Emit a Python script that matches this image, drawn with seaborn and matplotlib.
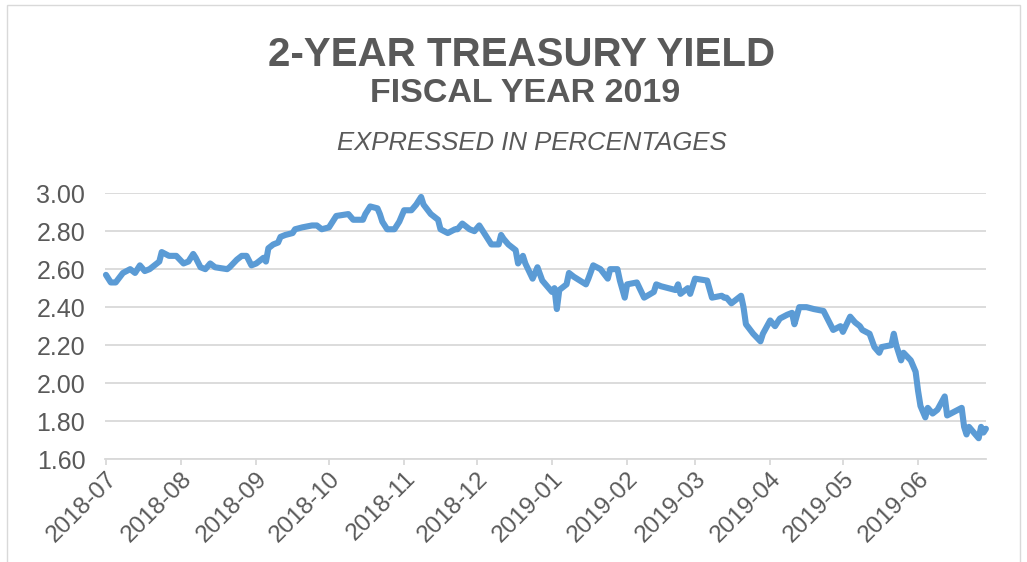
from __future__ import annotations

import matplotlib

matplotlib.use("Agg")
import matplotlib.dates as mdates
import matplotlib.pyplot as plt
import pandas as pd
import seaborn as sns
from matplotlib.patches import Rectangle

TITLE = "2-YEAR TREASURY YIELD"
SUBTITLE = "FISCAL YEAR 2019"
NOTE = "EXPRESSED IN PERCENTAGES"

DATES = [
    "2018-07-01", "2018-07-03", "2018-07-05", "2018-07-08", "2018-07-11", "2018-07-13",
    "2018-07-15", "2018-07-17", "2018-07-19", "2018-07-22", "2018-07-23", "2018-07-24",
    "2018-07-27", "2018-07-30", "2018-08-02", "2018-08-04", "2018-08-06", "2018-08-07",
    "2018-08-09", "2018-08-11", "2018-08-13", "2018-08-15", "2018-08-20", "2018-08-21",
    "2018-08-24", "2018-08-26", "2018-08-28", "2018-08-30", "2018-09-01", "2018-09-04",
    "2018-09-05", "2018-09-06", "2018-09-08", "2018-09-10", "2018-09-11", "2018-09-13",
    "2018-09-16", "2018-09-17", "2018-09-20", "2018-09-24", "2018-09-26", "2018-09-28",
    "2018-10-01", "2018-10-04", "2018-10-09", "2018-10-11", "2018-10-15", "2018-10-16",
    "2018-10-18", "2018-10-21", "2018-10-22", "2018-10-23", "2018-10-25", "2018-10-28",
    "2018-10-30", "2018-11-01", "2018-11-04", "2018-11-06", "2018-11-08", "2018-11-09",
    "2018-11-12", "2018-11-15", "2018-11-16", "2018-11-19", "2018-11-22", "2018-11-23",
    "2018-11-25", "2018-11-28", "2018-11-30", "2018-12-02", "2018-12-04", "2018-12-07",
    "2018-12-10", "2018-12-11", "2018-12-12", "2018-12-14", "2018-12-17", "2018-12-18",
    "2018-12-20", "2018-12-21", "2018-12-24", "2018-12-26", "2018-12-28", "2018-12-30",
    "2019-01-01", "2019-01-02", "2019-01-03", "2019-01-04", "2019-01-07", "2019-01-08",
    "2019-01-10", "2019-01-15", "2019-01-16", "2019-01-18", "2019-01-21", "2019-01-24",
    "2019-01-25", "2019-01-28", "2019-01-29", "2019-01-31", "2019-02-01", "2019-02-05",
    "2019-02-08", "2019-02-12", "2019-02-13", "2019-02-15", "2019-02-21", "2019-02-22",
    "2019-02-23", "2019-02-26", "2019-02-27", "2019-03-01", "2019-03-06", "2019-03-08",
    "2019-03-12", "2019-03-13", "2019-03-14", "2019-03-16", "2019-03-20", "2019-03-21",
    "2019-03-22", "2019-03-25", "2019-03-28", "2019-03-29", "2019-04-01", "2019-04-03",
    "2019-04-05", "2019-04-08", "2019-04-10", "2019-04-11", "2019-04-13", "2019-04-16",
    "2019-04-19", "2019-04-23", "2019-04-25", "2019-04-27", "2019-04-30", "2019-05-01",
    "2019-05-04", "2019-05-06", "2019-05-08", "2019-05-09", "2019-05-12", "2019-05-14",
    "2019-05-16", "2019-05-17", "2019-05-21", "2019-05-22", "2019-05-23", "2019-05-25",
    "2019-05-26", "2019-05-29", "2019-05-31", "2019-06-01", "2019-06-02", "2019-06-04",
    "2019-06-05", "2019-06-07", "2019-06-09", "2019-06-12", "2019-06-13", "2019-06-16",
    "2019-06-19", "2019-06-20", "2019-06-21", "2019-06-22", "2019-06-26", "2019-06-27",
    "2019-06-28", "2019-06-29",
]

YIELDS = [
    2.57, 2.53, 2.53, 2.58, 2.60, 2.58,
    2.62, 2.59, 2.60, 2.63, 2.64, 2.69,
    2.67, 2.67, 2.63, 2.64, 2.68, 2.66,
    2.61, 2.60, 2.63, 2.61, 2.60, 2.61,
    2.65, 2.67, 2.67, 2.62, 2.63, 2.66,
    2.64, 2.71, 2.73, 2.74, 2.77, 2.78,
    2.79, 2.81, 2.82, 2.83, 2.83, 2.81,
    2.82, 2.88, 2.89, 2.86, 2.86, 2.89,
    2.93, 2.92, 2.89, 2.85, 2.81, 2.81,
    2.85, 2.91, 2.91, 2.94, 2.98, 2.94,
    2.89, 2.86, 2.81, 2.79, 2.81, 2.81,
    2.84, 2.81, 2.80, 2.83, 2.79, 2.73,
    2.73, 2.78, 2.76, 2.73, 2.70, 2.63,
    2.67, 2.63, 2.55, 2.61, 2.54, 2.51,
    2.48, 2.50, 2.39, 2.49, 2.52, 2.58,
    2.56, 2.52, 2.55, 2.62, 2.60, 2.55,
    2.60, 2.60, 2.54, 2.45, 2.52, 2.53,
    2.45, 2.48, 2.52, 2.51, 2.49, 2.52,
    2.47, 2.50, 2.47, 2.55, 2.54, 2.45,
    2.46, 2.45, 2.45, 2.42, 2.46, 2.40,
    2.31, 2.26, 2.22, 2.26, 2.33, 2.30,
    2.34, 2.36, 2.37, 2.31, 2.40, 2.40,
    2.39, 2.38, 2.33, 2.28, 2.30, 2.27,
    2.35, 2.32, 2.30, 2.28, 2.26, 2.19,
    2.16, 2.19, 2.20, 2.26, 2.20, 2.12,
    2.16, 2.12, 2.06, 1.96, 1.88, 1.82,
    1.87, 1.84, 1.86, 1.93, 1.83, 1.85,
    1.87, 1.77, 1.73, 1.77, 1.71, 1.77,
    1.74, 1.76,
]

Y_TICKS = [1.60, 1.80, 2.00, 2.20, 2.40, 2.60, 2.80, 3.00]
MONTH_TICKS = pd.date_range("2018-07-01", "2019-06-01", freq="MS")

TEXT = "#595959"
GRID = "#d9d9d9"
LINE = "#5b9bd5"


def main() -> None:
    sns.set_theme(style="white")
    plt.rcParams["font.family"] = ["Liberation Sans", "DejaVu Sans"]

    df = pd.DataFrame({"date": pd.to_datetime(DATES), "yield": YIELDS})

    fig = plt.figure(figsize=(10.27, 5.62), dpi=100)
    ax = fig.add_axes([0.102, 0.183, 0.858, 0.4733])

    sns.lineplot(data=df, x="date", y="yield", ax=ax, color=LINE, linewidth=4.4, clip_on=False)

    ax.set_xlim(pd.Timestamp("2018-06-30 12:00"), pd.Timestamp("2019-06-29"))
    ax.set_ylim(1.6, 3.0)
    ax.set_yticks(Y_TICKS)
    ax.set_yticklabels([f"{v:.2f}" for v in Y_TICKS])
    ax.set_xticks(MONTH_TICKS)
    ax.xaxis.set_major_formatter(mdates.DateFormatter("%Y-%m"))
    ax.set_xlabel("")
    ax.set_ylabel("")

    ax.grid(axis="y", color=GRID, linewidth=1.3)
    ax.set_axisbelow(True)
    for side in ["top", "right", "left"]:
        ax.spines[side].set_visible(False)
    ax.spines["bottom"].set_color(GRID)
    ax.spines["bottom"].set_linewidth(1.3)

    ax.tick_params(axis="y", length=0, pad=14, labelsize=18, labelcolor=TEXT)
    ax.tick_params(axis="x", bottom=True, length=4, width=1.3, color=GRID, direction="out",
                   pad=2, labelsize=17.5, labelcolor=TEXT)
    for label in ax.get_xticklabels():
        label.set_rotation(45)
        label.set_ha("right")
        label.set_va("top")
        label.set_rotation_mode("anchor")

    fig.text(0.508, 1 - 66 / 562, TITLE, ha="center", va="baseline", fontsize=29,
             fontweight="bold", color=TEXT)
    fig.text(0.511, 1 - 102 / 562, SUBTITLE, ha="center", va="baseline", fontsize=24.5,
             fontweight="bold", color=TEXT)
    fig.text(0.518, 1 - 150 / 562, NOTE, ha="center", va="baseline", fontsize=18.5,
             fontstyle="italic", color=TEXT)

    fig.add_artist(Rectangle((0.007, -0.05), 0.986, 1.041, transform=fig.transFigure,
                             fill=False, edgecolor=GRID, linewidth=1))

    fig.savefig("out.png", dpi=100)
    plt.close(fig)


if __name__ == "__main__":
    main()
